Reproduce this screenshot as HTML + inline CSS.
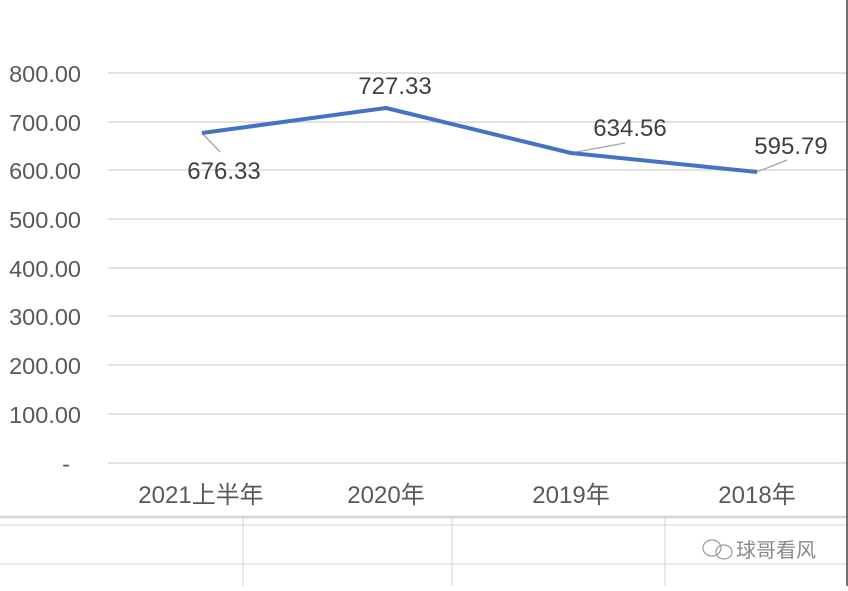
<!DOCTYPE html>
<html><head><meta charset="utf-8"><style>body{margin:0;background:#fff}</style></head><body>
<svg width="848" height="586" xmlns="http://www.w3.org/2000/svg" font-family="Liberation Sans, Noto Sans CJK SC, sans-serif">
<rect width="848" height="586" fill="#fff"/>
<g stroke="#d9d9d9" stroke-width="1.5">
<line x1="108" y1="73" x2="848" y2="73"/><line x1="108" y1="122" x2="848" y2="122"/>
<line x1="108" y1="170" x2="848" y2="170"/><line x1="108" y1="219" x2="848" y2="219"/>
<line x1="108" y1="268" x2="848" y2="268"/><line x1="108" y1="316" x2="848" y2="316"/>
<line x1="108" y1="365" x2="848" y2="365"/><line x1="108" y1="414" x2="848" y2="414"/>
<line x1="108" y1="463" x2="848" y2="463"/>
</g>
<g stroke="#d4d4d4" stroke-width="1">
<line x1="0" y1="517" x2="848" y2="517" stroke-width="2.5"/>
<line x1="0" y1="525" x2="848" y2="525"/>
<line x1="0" y1="564" x2="848" y2="564"/>
<line x1="243" y1="517" x2="243" y2="586"/>
<line x1="452" y1="517" x2="452" y2="586"/>
<line x1="665" y1="517" x2="665" y2="586"/>
</g>
<line x1="847" y1="0" x2="847" y2="586" stroke="#444" stroke-width="1.5"/>
<g fill="#595959" font-size="23.5" text-anchor="end">
<text x="81" y="82">800.00</text><text x="81" y="131">700.00</text>
<text x="81" y="179">600.00</text><text x="81" y="228">500.00</text>
<text x="81" y="277">400.00</text><text x="81" y="325">300.00</text>
<text x="81" y="374">200.00</text><text x="81" y="423">100.00</text>
<text x="70" y="472">-</text>
</g>
<g fill="#595959" font-size="24" text-anchor="middle">
<text x="201" y="503">2021上半年</text><text x="386" y="503">2020年</text>
<text x="571" y="503">2019年</text><text x="757" y="503">2018年</text>
</g>
<g stroke="#a6a6a6" stroke-width="1.3" fill="none">
<polyline points="202,133 220,152"/>
<polyline points="571,153 625,143"/>
<polyline points="757,172 787,160"/>
</g>
<polyline points="202,133 386,108 571,153 757,172" fill="none" stroke="#4472c4" stroke-width="4" stroke-linejoin="round"/>
<g fill="#404040" font-size="24" text-anchor="middle">
<text x="224" y="179">676.33</text><text x="395" y="94">727.33</text>
<text x="630" y="136">634.56</text><text x="791" y="154">595.79</text>
</g>
<text x="736" y="557" font-size="20" fill="#888">球哥看风</text>
<g stroke="#999" fill="none" stroke-width="1.2"><ellipse cx="712" cy="548" rx="9" ry="8"/><ellipse cx="724" cy="552" rx="8" ry="7"/></g>
</svg>
</body></html>
